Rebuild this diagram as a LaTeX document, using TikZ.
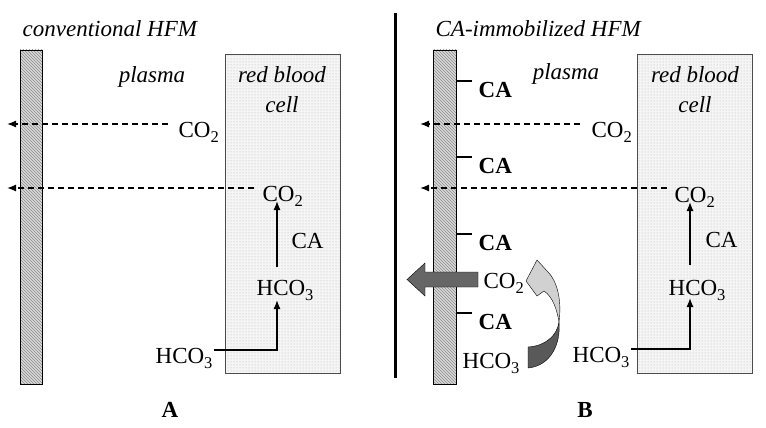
\documentclass[tikz,border=0pt]{standalone}
\usepackage{fontspec}
\setmainfont{Liberation Serif}
\usetikzlibrary{arrows.meta,patterns,positioning,backgrounds}
\newcommand{\diafont}{\fontsize{23}{30}\selectfont}
\newcommand{\chsub}[1]{\raisebox{-5.5pt}{\fontsize{16.5}{16}\selectfont #1}}

\begin{document}
\begin{tikzpicture}[x=1pt, y=-1pt, >={Latex[length=9pt,width=7pt]}, line width=1.3pt,
                    inner sep=0pt, font=\diafont]
    \tikzstyle{chem} = [anchor=base west]
    \tikzstyle{region} = [font=\diafont\itshape, align=center]
    \tikzstyle{enzyme} = [anchor=base west, font=\diafont\bfseries]
    \tikzstyle{fiber} = [rectangle, draw=black, thin, minimum width=22pt,
                         minimum height=334pt, pattern=north west lines,
                         pattern color=black!45, preaction={fill=black!15}]
    \tikzstyle{cell} = [rectangle, draw=black!70, thin, minimum width=115pt,
                        minimum height=319pt, pattern=dots, pattern color=black!30,
                        preaction={fill=black!4}]
    \tikzstyle{flux} = [->, dash pattern=on 6.5pt off 3.5pt]
    \tikzstyle{react} = [->]

    \fill[white] (0,0) rectangle (766,428);
    \useasboundingbox (0,0) rectangle (766,428);
    \draw[line width=3pt] (395,13) -- (395,378);

    % A: conventional HFM
    \node (fibA)  [fiber] at (31,217) {};
    \node (cellA) [cell] at (282.5,213.5) {};
    \node (titleA)   [region, anchor=base west] at (22,37) {conventional HFM};
    \node (plasmaA)  [region, anchor=base] at (152,82) {plasma};
    \node (rbcA)     [region, anchor=north] at (282,66) {red blood\\cell};
    \node (co2upA)   [chem] at (178,137) {CO\chsub{2}};
    \node (co2loA)   [chem] at (262,201) {CO\chsub{2}};
    \node (caA)      [chem] at (291,248) {CA};
    \node (hco3inA)  [chem] at (256,295) {HCO\chsub{3}};
    \node (hco3outA) [chem] at (155,363) {HCO\chsub{3}};
    \node (labA) [anchor=base, font=\diafont\bfseries] at (170,417) {A};
    \coordinate (outupA) at (7,124);
    \coordinate (outloA) at (7,188);

    \draw [flux] ([xshift=-10pt, yshift=13pt] co2upA.base west) -- (outupA);
    \draw [flux] ([xshift=-8pt, yshift=13pt] co2loA.base west) -- (outloA);
    \draw [react] ([xshift=21pt, yshift=28pt] hco3inA.base west) -- ([xshift=15pt] co2loA.base west);
    \draw [react] ([xshift=1pt, yshift=13pt] hco3outA.base east) -|
                  ([xshift=21pt, yshift=-5pt] hco3inA.base west);

    % B: CA-immobilized HFM
    \node (fibB)  [fiber, minimum width=23pt] at (444.5,217) {};
    \node (cellB) [cell] at (694.5,213.5) {};
    \node (titleB)   [region, anchor=base west] at (435,37) {CA-immobilized HFM};
    \node (plasmaB)  [region, anchor=base] at (566,80) {plasma};
    \node (rbcB)     [region, anchor=north] at (695,66) {red blood\\cell};
    \node (caB1) [enzyme] at (478,97) {CA};
    \node (caB2) [enzyme, on grid, below=76pt of caB1] {CA};
    \node (caB3) [enzyme, on grid, below=77pt of caB2] {CA};
    \node (caB4) [enzyme, on grid, below=79pt of caB3] {CA};
    \node (co2upB)   [chem] at (591,137) {CO\chsub{2}};
    \node (co2loB)   [chem] at (674,202) {CO\chsub{2}};
    \node (caB)      [chem] at (705,247) {CA};
    \node (hco3inB)  [chem] at (668,295) {HCO\chsub{3}};
    \node (hco3outB) [chem] at (572,362) {HCO\chsub{3}};
    \node (co2memB)  [chem] at (483,288) {CO\chsub{2}};
    \node (hco3memB) [chem] at (462,368) {HCO\chsub{3}};
    \node (labB) [anchor=base, font=\diafont\bfseries] at (585,417) {B};
    \coordinate (outupB) at (420,124);
    \coordinate (outloB) at (420,188);

    \foreach \n in {1,...,4}
      \draw ([xshift=-6pt] caB\n.north west) -- (caB\n.north west -| fibB.east);
    \draw [flux] ([xshift=-11pt, yshift=13pt] co2upB.base west) -- (outupB);
    \draw [flux] ([xshift=-7pt, yshift=14pt] co2loB.base west) -- (outloB);
    \draw [react] ([xshift=22pt, yshift=30pt] hco3inB.base west) -- ([xshift=16pt] co2loB.base west);
    \draw [react] ([xshift=1pt, yshift=13pt] hco3outB.base east) -|
                  ([xshift=22pt, yshift=-3pt] hco3inB.base west);

    % CO2 leaving through the membrane
    \filldraw [fill=black!60, thin] ([xshift=-5pt, yshift=16pt] co2memB.base west)
      -- ++(-53,0) -- ++(0,-9) -- ++(-18,16.5) -- ++(18,16.5) -- ++(0,-9) -- ++(53,0) -- cycle;
    % HCO3 to CO2 at the immobilized CA
    \filldraw [fill=black!65, thin] (528,347) .. controls (545,346) and (557,336) .. (559,322)
      .. controls (561,345) and (550,366) .. (528,368) -- cycle;
    \filldraw [fill=black!18, thin] (559,322) .. controls (557,310) and (553,297) .. (544,291)
      -- (537,296) -- (526,281) -- (537,260) -- (548,272)
      .. controls (557,281) and (562,300) .. (559,322) -- cycle;
\end{tikzpicture}
\end{document}
